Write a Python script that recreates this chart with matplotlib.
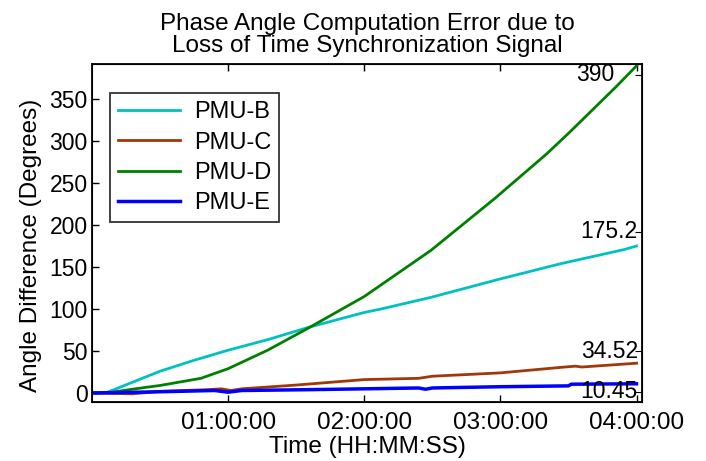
import numpy as np
import matplotlib
matplotlib.use("Agg")
import matplotlib.pyplot as plt
import matplotlib.transforms as mtransforms

plt.rcParams['font.family'] = ['Liberation Sans', 'DejaVu Sans']

# =========================
# DATA (hours, degrees)
# =========================

t_b = [0.0, 0.1, 0.3, 0.5, 0.75, 1.0, 1.3, 1.585, 2.0, 2.12, 2.49, 3.0, 3.44, 3.91, 4.0]
pmu_b = [0.0, 0.0, 13, 26, 39, 51, 64, 78, 96, 100, 114, 136, 154, 171, 175.2]

t_c = [0.0, 0.3, 0.5, 0.85, 0.95, 1.02, 1.1, 1.5, 2.0, 2.4, 2.5, 3.0, 3.44, 3.55, 3.6, 4.0]
pmu_c = [0.0, -1.0, 2.0, 4.0, 5.0, 3.0, 5.0, 9.5, 16.0, 17.5, 20.0, 24.0, 30.5, 32.0, 31.0, 35.5]

t_d = [0.0, 0.15, 0.29, 0.5, 0.8, 1.0, 1.29, 1.585, 2.0, 2.49, 2.96, 3.34, 3.51, 3.85, 4.0]
pmu_d = [0.0, 1.0, 4.4, 9.0, 17.5, 29.0, 51, 77, 115, 170, 232, 285, 311, 365, 390]

t_e = [0.0, 0.5, 0.9, 1.0, 1.1, 1.6, 2.0, 2.4, 2.45, 2.5, 3.0, 3.5, 3.52, 4.0]
pmu_e = [0.0, 1.5, 3.0, 1.0, 3.0, 4.0, 5.0, 6.0, 4.5, 6.0, 7.5, 8.5, 10.5, 11.0]

x_ticks = [1, 2, 3, 4]
x_tick_labels = ["01:00:00", "02:00:00", "03:00:00", "04:00:00"]
y_ticks = [0, 50, 100, 150, 200, 250, 300, 350]

# final values shown on the right edge
end_labels = ["390", "175.2", "34.52", "10.45"]
end_label_pos = [379, 192, 50, 1.5]

FS = 17

# =========================
# PLOT
# =========================

fig = plt.figure(figsize=(7.06, 4.61), dpi=100)
ax = fig.add_axes([0.1303, 0.128, 0.7790, 0.733])

ax.plot(t_b, pmu_b, color='#00c0c0', lw=2, label='PMU-B')
ax.plot(t_c, pmu_c, color='#a0380a', lw=2, label='PMU-C')
ax.plot(t_d, pmu_d, color='#008000', lw=2, label='PMU-D')
ax.plot(t_e, pmu_e, color='#0000ff', lw=2.5, label='PMU-E')

ax.set_xlim(0.0, 4.04)
ax.set_ylim(-10.7, 392)
ax.set_xticks(x_ticks)
ax.set_xticklabels(x_tick_labels)
ax.set_yticks(y_ticks)

ax.tick_params(axis='both', direction='in', length=5, labelsize=16.5,
               top=True, right=False, width=1)
ax.tick_params(axis='x', pad=7, labelsize=17.5)
ax.tick_params(axis='y', pad=3)
for s in ax.spines.values():
    s.set_linewidth(1.3)

# tick marks on the right spine at the end values
ax2 = ax.twinx()
ax2.set_ylim(ax.get_ylim())
ax2.set_yticks(end_label_pos)
ax2.set_yticklabels([])
ax2.tick_params(axis='y', direction='in', length=5)

trans = mtransforms.blended_transform_factory(ax.transAxes, ax.transData)
for i, (lab, pos) in enumerate(zip(end_labels, end_label_pos)):
    off = -20 if i == 0 else -3
    ax.annotate(lab, xy=(1.0, pos), xycoords=trans, xytext=(off, 0),
                textcoords='offset points', ha='right', va='center',
                fontsize=16.5)

ax.set_xlabel("Time (HH:MM:SS)", fontsize=17.5, labelpad=2)
ax.set_ylabel("Angle Difference (Degrees)", fontsize=17.5)
ax.yaxis.set_label_coords(-0.09, 0.464)
ax.set_title("Phase Angle Computation Error due to\nLoss of Time Synchronization Signal",
             fontsize=17.5, pad=9, linespacing=1.0)

leg = ax.legend(loc='upper left', bbox_to_anchor=(0.033, 0.914), fontsize=FS,
                frameon=True, fancybox=False, edgecolor='black',
                handlelength=2.6, labelspacing=0.35, borderpad=0.35,
                handletextpad=0.6, borderaxespad=0)
leg.get_frame().set_linewidth(1.3)

fig.savefig("out.png", dpi=100)
